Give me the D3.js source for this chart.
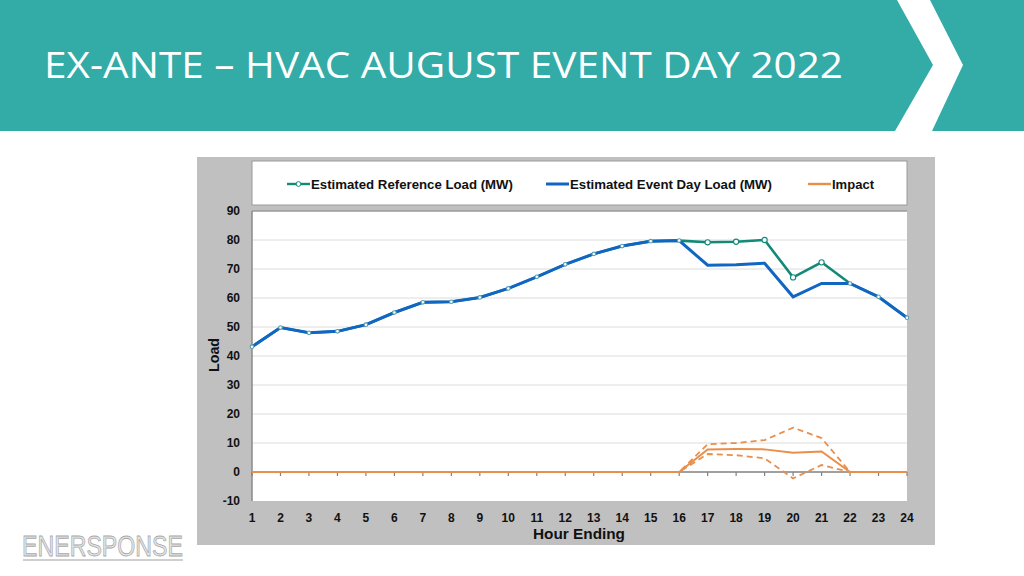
<!DOCTYPE html>
<html><head><meta charset="utf-8">
<script src="https://cdn.jsdelivr.net/npm/d3@7"></script>
<style>html,body{margin:0;padding:0;background:#fff;}svg{display:block;}</style>
</head><body>
<script>
const hours = d3.range(1, 25);
const refLoad = [43.2,49.8,48.0,48.5,50.8,55.0,58.5,58.7,60.2,63.3,67.3,71.6,75.2,77.9,79.6,79.8,79.2,79.4,80.0,67.1,72.3,65.0,60.4,53.2];
const eventLoad = [43.2,49.8,48.0,48.5,50.8,55.0,58.5,58.7,60.2,63.3,67.3,71.6,75.2,77.9,79.6,79.8,71.3,71.5,72.0,60.4,65.0,65.0,60.4,53.2];
const impact = [0,0,0,0,0,0,0,0,0,0,0,0,0,0,0,0,7.8,7.9,7.8,6.6,7.1,0,0,0];
const impactUpper = [0,0,0,0,0,0,0,0,0,0,0,0,0,0,0,0,9.6,10.0,11.0,15.3,11.7,0,0,0];
const impactLower = [0,0,0,0,0,0,0,0,0,0,0,0,0,0,0,0,6.2,5.8,4.7,-2.2,2.4,0,0,0];
const yTicks = [-10,0,10,20,30,40,50,60,70,80,90];
const title = "EX-ANTE – HVAC AUGUST EVENT DAY 2022";
const legendLabels = ["Estimated Reference Load (MW)", "Estimated Event Day Load (MW)", "Impact"];

const W = 1024, H = 576;
const svg = d3.select("body").append("svg").attr("width", W).attr("height", H);
const FF = "'Liberation Sans', Arial, sans-serif";

// header
svg.append("rect").attr("x",0).attr("y",0).attr("width",W).attr("height",131).attr("fill","#33ABA7");
svg.append("path").attr("d","M897,0 L930,0 L963,65 L932,131 L895,131 L933,65 Z").attr("fill","#fff");
svg.append("text").attr("x",44).attr("y",78).text(title)
  .attr("font-family","'Open Sans', sans-serif").attr("font-size",36).attr("fill","#fff")
  .attr("textLength",799).attr("lengthAdjust","spacingAndGlyphs");

// chart frame
svg.append("rect").attr("x",197).attr("y",157).attr("width",738).attr("height",388).attr("fill","#C0C0C0");
svg.append("rect").attr("x",252).attr("y",161).attr("width",655).attr("height",44).attr("fill","#fff")
  .attr("stroke","#9a9a9a").attr("stroke-width",1);

const x = d3.scaleLinear().domain([1,24]).range([252,907]);
const y = d3.scaleLinear().domain([-10,90]).range([501,211]);

svg.append("rect").attr("x",252).attr("y",211).attr("width",655).attr("height",290).attr("fill","#fff");

// gridlines
svg.append("g").selectAll("line").data(yTicks.filter(t=>t>-10&&t<90&&t!==0)).join("line")
  .attr("x1",252).attr("x2",907).attr("y1",d=>y(d)).attr("y2",d=>y(d))
  .attr("stroke","#dcdcdc").attr("stroke-width",1);

// plot border (left/top)
svg.append("line").attr("x1",252).attr("x2",907).attr("y1",211).attr("y2",211).attr("stroke","#9a9a9a").attr("stroke-width",1.5);
svg.append("line").attr("x1",252).attr("x2",252).attr("y1",211).attr("y2",501).attr("stroke","#8a8a8a").attr("stroke-width",1.5);

// y tick labels
svg.append("g").selectAll("text").data(yTicks).join("text")
  .attr("x",240).attr("y",d=>y(d)+4.3).attr("text-anchor","end").text(d=>d)
  .attr("font-family",FF).attr("font-weight","bold").attr("font-size",12).attr("fill","#111");

// x axis at 0
svg.append("line").attr("x1",252).attr("x2",907).attr("y1",y(0)).attr("y2",y(0)).attr("stroke","#808080").attr("stroke-width",1.5);
svg.append("g").selectAll("line").data(hours).join("line")
  .attr("x1",d=>x(d)).attr("x2",d=>x(d)).attr("y1",y(0)).attr("y2",y(0)+4).attr("stroke","#808080").attr("stroke-width",1.2);
svg.append("g").selectAll("text").data(hours).join("text")
  .attr("x",d=>x(d)).attr("y",522).attr("text-anchor","middle").text(d=>d)
  .attr("font-family",FF).attr("font-weight","bold").attr("font-size",12).attr("fill","#111");

svg.append("text").attr("x",579).attr("y",539).attr("text-anchor","middle").text("Hour Ending")
  .attr("font-family",FF).attr("font-weight","bold").attr("font-size",14).attr("fill","#111")
  .attr("textLength",92).attr("lengthAdjust","spacingAndGlyphs");
svg.append("text").attr("transform","translate(219,355) rotate(-90)").attr("text-anchor","middle").text("Load")
  .attr("font-family",FF).attr("font-weight","bold").attr("font-size",14).attr("fill","#111")
  .attr("textLength",34).attr("lengthAdjust","spacingAndGlyphs");

const line = vals => d3.line().x((d,i)=>x(hours[i])).y(d=>y(d))(vals);
const green = "#138A78", blue = "#1066C2", orange = "#E98F4C";

// impact band lines
svg.append("path").attr("d",line(impactUpper)).attr("fill","none").attr("stroke",orange).attr("stroke-width",1.8).attr("stroke-dasharray","6,4");
svg.append("path").attr("d",line(impactLower)).attr("fill","none").attr("stroke",orange).attr("stroke-width",1.8).attr("stroke-dasharray","6,4");
svg.append("path").attr("d",line(impact)).attr("fill","none").attr("stroke",orange).attr("stroke-width",2);

svg.append("path").attr("d",line(refLoad)).attr("fill","none").attr("stroke",green).attr("stroke-width",2.6);
svg.append("path").attr("d",line(eventLoad)).attr("fill","none").attr("stroke",blue).attr("stroke-width",3);
svg.append("g").selectAll("circle").data(refLoad).join("circle")
  .attr("cx",(d,i)=>x(hours[i])).attr("cy",d=>y(d)).attr("r",(d,i)=>refLoad[i]===eventLoad[i]?1.8:2.6)
  .attr("fill","#fff").attr("stroke",(d,i)=>refLoad[i]===eventLoad[i]?"#5a9fb0":green).attr("stroke-width",1.1);

// legend
const lg = svg.append("g").attr("font-family",FF).attr("font-weight","bold").attr("font-size",12.5).attr("fill","#111");
const legX = [287, 546, 808];
const legW = [202, 202, 42];
const legC = [green, blue, orange];
legX.forEach((lx,i)=>{
  lg.append("line").attr("x1",lx).attr("x2",lx+23).attr("y1",184).attr("y2",184).attr("stroke",legC[i]).attr("stroke-width",i===1?3:2.4);
  if(i===0) lg.append("circle").attr("cx",lx+11.5).attr("cy",184).attr("r",2.4).attr("fill","#fff").attr("stroke",green).attr("stroke-width",1);
  lg.append("text").attr("x",lx+24).attr("y",188.5).text(legendLabels[i])
    .attr("textLength",legW[i]).attr("lengthAdjust","spacingAndGlyphs");
});

// logo
svg.append("text").attr("x",22).attr("y",556).text("ENERSPONSE")
  .attr("font-family",FF).attr("font-size",29).attr("fill","#e6e6e6")
  .attr("stroke","#a8a8a8").attr("stroke-width",0.8).attr("textLength",161).attr("lengthAdjust","spacingAndGlyphs");
svg.append("line").attr("x1",23).attr("x2",183).attr("y1",560).attr("y2",560).attr("stroke","#cfcfcf").attr("stroke-width",2);
</script>
</body></html>
